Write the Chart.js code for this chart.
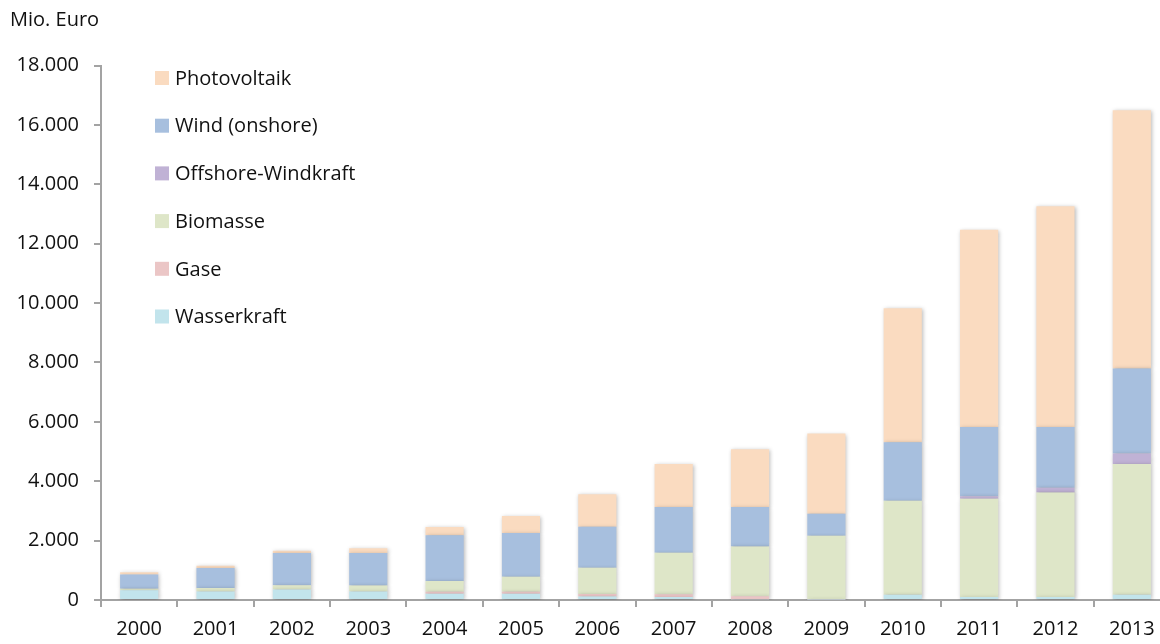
<!DOCTYPE html>
<html>
<head>
<meta charset="utf-8">
<script src="https://cdn.jsdelivr.net/npm/chart.js@4/dist/chart.umd.min.js"></script>
<style>
  html, body { margin: 0; padding: 0; background: #fff; overflow: hidden; }
  canvas { display: block; }
</style>
</head>
<body>
<canvas id="investChart" width="1170" height="644"></canvas>
<script>
// ---- data (Mio. Euro) ----
const years = ['2000', '2001', '2002', '2003', '2004', '2005', '2006', '2007', '2008', '2009', '2010', '2011', '2012', '2013'];

const wasserkraft = [330, 290, 350, 290, 210, 210, 120, 100, 25, 15, 180, 100, 100, 180];
const gase        = [0, 0, 0, 0, 70, 70, 80, 90, 100, 15, 0, 0, 0, 0];
const biomasse    = [45, 115, 145, 200, 360, 505, 890, 1400, 1680, 2135, 3160, 3310, 3524, 4398];
const offshore    = [0, 0, 0, 0, 0, 0, 0, 0, 0, 0, 0, 80, 157, 359];
const windOnshore = [480, 670, 1085, 1095, 1540, 1470, 1380, 1540, 1325, 740, 1975, 2333, 2042, 2862];
const photovoltaik = [80, 80, 80, 160, 280, 570, 1090, 1450, 1950, 2700, 4510, 6642, 7439, 8694];

const yTicks = [0, 2000, 4000, 6000, 8000, 10000, 12000, 14000, 16000, 18000];

const axisGrey = '#a3a3a3';
const textColor = '#111111';
const fontFamily = '"Open Sans", sans-serif';

// bars get a soft shadow like the original
const barShadow = {
  id: 'barShadow',
  beforeDatasetsDraw(chart) {
    const ctx = chart.ctx;
    ctx.save();
    ctx.shadowColor = 'rgba(0,0,0,0.28)';
    ctx.shadowBlur = 4;
    ctx.shadowOffsetX = 1;
    ctx.shadowOffsetY = 1;
  },
  afterDatasetsDraw(chart) {
    chart.ctx.restore();
  }
};

// legend in one column inside the plot, top series first
const columnLegend = {
  id: 'columnLegend',
  afterDraw(chart) {
    const ctx = chart.ctx;
    const sets = chart.data.datasets.slice().reverse();
    ctx.save();
    ctx.font = '20px ' + fontFamily;
    ctx.textBaseline = 'middle';
    ctx.textAlign = 'left';
    sets.forEach((ds, i) => {
      const cy = 78 + i * 47.7;
      ctx.fillStyle = ds.backgroundColor;
      ctx.fillRect(155, cy - 7, 14, 14);
      ctx.fillStyle = textColor;
      ctx.fillText(ds.label, 175, cy + 1);
    });
    ctx.restore();
  }
};

const ctx = document.getElementById('investChart').getContext('2d');

new Chart(ctx, {
  type: 'bar',
  data: {
    labels: years,
    datasets: [
      { label: 'Wasserkraft', data: wasserkraft, backgroundColor: '#c2e4ec' },
      { label: 'Gase', data: gase, backgroundColor: '#ebc6c6' },
      { label: 'Biomasse', data: biomasse, backgroundColor: '#dee6c8' },
      { label: 'Offshore-Windkraft', data: offshore, backgroundColor: '#c0b2d5' },
      { label: 'Wind (onshore)', data: windOnshore, backgroundColor: '#a7bfde' },
      { label: 'Photovoltaik', data: photovoltaik, backgroundColor: '#fadbc0' }
    ]
  },
  options: {
    responsive: false,
    animation: false,
    devicePixelRatio: 1,
    layout: { padding: { left: 10, top: 0, right: 0, bottom: 0 } },
    datasets: {
      bar: { barPercentage: 0.5, categoryPercentage: 1.0, borderWidth: 0 }
    },
    plugins: {
      legend: { display: false },
      tooltip: { enabled: false },
      title: {
        display: true,
        text: 'Mio. Euro',
        align: 'start',
        color: textColor,
        font: { family: fontFamily, size: 20, weight: 'normal', lineHeight: 1.2 },
        padding: { top: 8, bottom: 33.5 }
      }
    },
    scales: {
      x: {
        stacked: true,
        grid: {
          display: true,
          drawOnChartArea: false,
          drawTicks: true,
          tickLength: 7,
          color: axisGrey,
          lineWidth: 2,
          offset: true
        },
        border: { display: true, color: axisGrey, width: 2 },
        ticks: { color: textColor, font: { family: fontFamily, size: 20 }, padding: 10, maxRotation: 0 },
        afterFit: (s) => { s.height = 44; }
      },
      y: {
        stacked: true,
        min: 0,
        max: 18000,
        afterBuildTicks: (s) => { s.ticks = yTicks.map(v => ({ value: v })); },
        grid: {
          display: true,
          drawOnChartArea: false,
          drawTicks: true,
          tickLength: 7,
          color: axisGrey,
          lineWidth: 2
        },
        border: { display: true, color: axisGrey, width: 2 },
        ticks: {
          color: textColor,
          font: { family: fontFamily, size: 20 },
          padding: 15,
          callback: (v) => v.toLocaleString('de-DE')
        },
        afterFit: (s) => { s.width = 91; }
      }
    }
  },
  plugins: [barShadow, columnLegend]
});
</script>
</body>
</html>
